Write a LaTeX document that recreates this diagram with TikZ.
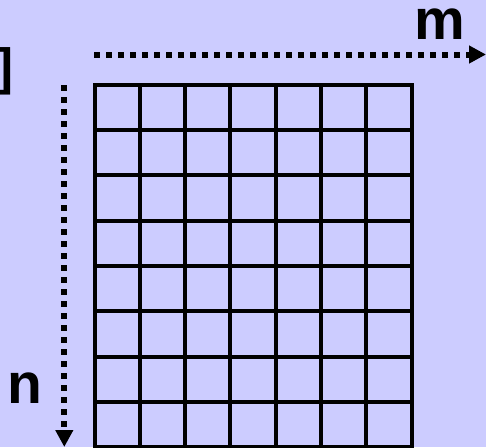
\documentclass[tikz,border=0pt]{standalone}
\usepackage{fontspec}
\setmainfont{Liberation Sans}
\usetikzlibrary{arrows.meta}
\definecolor{bglav}{HTML}{CCCCFF}

\begin{document}
\begin{tikzpicture}[x=1pt,y=-1pt,
    cell/.style={draw,line width=4pt,line cap=rect},
    dotarrow/.style={line width=6pt,dash pattern=on 6pt off 6pt,-{Triangle[length=17pt,width=17pt]}},
    lbl/.style={font=\fontsize{57}{60}\selectfont\bfseries,inner sep=0pt,anchor=base}]

\fill[bglav] (0,0) rectangle (486,447);
\useasboundingbox (0,0) rectangle (486,447);

% grid of cells
\foreach \i in {0,...,7}
  \draw[cell] ({94.5+45.31*\i},84.7) -- ({94.5+45.31*\i},447);
\foreach \j in {0,...,8}
  \draw[cell] (94.5,{84.7+45.3*\j}) -- (411.7,{84.7+45.3*\j});

% dimension arrows
\coordinate (mstart) at (94.3,54.5);
\coordinate (mend) at (486,54.5);
\coordinate (nstart) at (64.3,85);
\coordinate (nend) at (64.3,447);
\draw[dotarrow] (mstart) -- (mend);
\draw[dotarrow] (nstart) -- (nend);

\node[lbl] (m) at (440,39.3) {m};
\node[lbl] (n) at (24.5,403.3) {n};
\node[lbl,font=\fontsize{51}{54}\selectfont\bfseries,anchor=base east] (br) at (14,84.3) {]};

\end{tikzpicture}
\end{document}
